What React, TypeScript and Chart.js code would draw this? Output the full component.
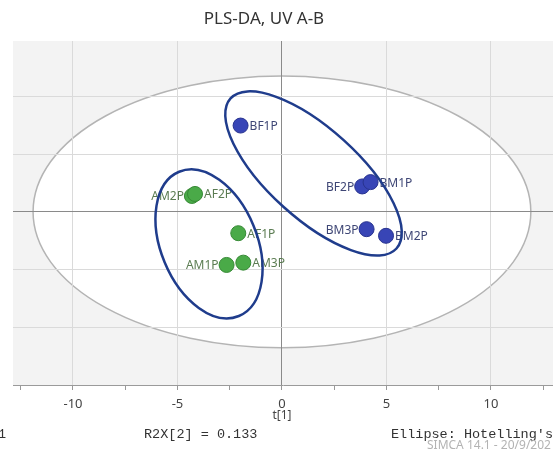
import React, { useEffect, useRef } from 'react';
import { Chart, registerables } from 'chart.js';

Chart.register(...registerables);

// ---------- data ----------
const TITLE = 'PLS-DA, UV A-B';
const X_AXIS_TITLE = 't[1]';
const FOOTER_LEFT_FRAGMENT = 'R2X[1] = 0.261';
const FOOTER_R2X = 'R2X[2] = 0.133';
const FOOTER_ELLIPSE = "Ellipse: Hotelling's T2 (95%)";
const FOOTER_SIMCA = 'SIMCA 14.1 - 20/9/202';

const X_MIN = -12.87;
const X_MAX = 12.97;
const Y_MIN = -6;
const Y_MAX = 5.92;
const X_TICKS = [-12.5, -10, -7.5, -5, -2.5, 0, 2.5, 5, 7.5, 10, 12.5];
const Y_GRID = [-6, -4, -2, 0, 2, 4];

const B_LABELS = ['BF1P', 'BF2P', 'BM1P', 'BM3P', 'BM2P'];
const B_X = [-1.98, 3.84, 4.24, 4.05, 4.98];
const B_Y = [2.99, 0.88, 1.03, -0.6, -0.83];
const B_SIDE = ['right', 'left', 'right', 'left', 'right'];

const A_LABELS = ['AM2P', 'AF2P', 'AF1P', 'AM1P', 'AM3P'];
const A_X = [-4.31, -4.16, -2.09, -2.65, -1.85];
const A_Y = [0.55, 0.62, -0.74, -1.84, -1.76];
const A_SIDE = ['left', 'right', 'right', 'left', 'right'];

// Hotelling T2 ellipse (data units, centred at origin)
const HOTELLING_RX = 11.91;
const HOTELLING_RY = 4.71;

// hand-drawn group ellipses: centre, major-axis tip (data units), minor semi-axis (x units)
const GROUP_B_ELLIPSE = [1.51, 1.33, -2.46, 3.93, 2.15];
const GROUP_A_ELLIPSE = [-3.49, -1.11, -4.92, 1.39, 2.3];

const BLUE_FILL = '#3845b6';
const BLUE_BORDER = '#28338f';
const BLUE_TEXT = '#3e4675';
const GREEN_FILL = '#4aaa48';
const GREEN_BORDER = '#378a36';
const GREEN_TEXT = '#5b7c52';
const NAVY = '#1f3c8c';

const overlay = {
  id: 'overlay',
  beforeDraw(chart: any) {
    const { ctx, chartArea: ca, scales } = chart;
    const xs = scales.x, ys = scales.y;
    ctx.save();
    ctx.fillStyle = '#f3f3f3';
    ctx.fillRect(ca.left, ca.top, ca.right - ca.left, ca.bottom - ca.top);
    const cx = xs.getPixelForValue(0), cy = ys.getPixelForValue(0);
    const rx = Math.abs(xs.getPixelForValue(HOTELLING_RX) - cx);
    const ry = Math.abs(ys.getPixelForValue(HOTELLING_RY) - cy);
    ctx.beginPath();
    ctx.ellipse(cx, cy, rx, ry, 0, 0, Math.PI * 2);
    ctx.fillStyle = '#ffffff';
    ctx.fill();
    ctx.lineWidth = 1.5;
    ctx.strokeStyle = '#b4b4b4';
    ctx.stroke();
    ctx.restore();
  },
  afterDatasetsDraw(chart: any) {
    const { ctx, scales } = chart;
    const xs = scales.x, ys = scales.y;
    ctx.save();
    ctx.font = '12px "Noto Sans"';
    ctx.textBaseline = 'middle';
    const r = 7.5;
    const drawLabels = (labels: string[], xv: number[], yv: number[], side: string[], color: string) => {
      ctx.fillStyle = color;
      labels.forEach((t, i) => {
        const px = xs.getPixelForValue(xv[i]);
        const py = ys.getPixelForValue(yv[i]);
        if (side[i] === 'left') {
          ctx.textAlign = 'right';
          ctx.fillText(t, px - r - 0.5, py + 1);
        } else {
          ctx.textAlign = 'left';
          ctx.fillText(t, px + r + 1.5, py + 1);
        }
      });
    };
    drawLabels(B_LABELS, B_X, B_Y, B_SIDE, BLUE_TEXT);
    drawLabels(A_LABELS, A_X, A_Y, A_SIDE, GREEN_TEXT);

    const drawGroup = (e: number[]) => {
      const cx = xs.getPixelForValue(e[0]), cy = ys.getPixelForValue(e[1]);
      const tx = xs.getPixelForValue(e[2]), ty = ys.getPixelForValue(e[3]);
      const a = Math.hypot(tx - cx, ty - cy);
      const b = Math.abs(xs.getPixelForValue(e[0] + e[4]) - cx);
      const rot = Math.atan2(ty - cy, tx - cx);
      ctx.beginPath();
      ctx.ellipse(cx, cy, a, b, rot, 0, Math.PI * 2);
      ctx.lineWidth = 2.5;
      ctx.strokeStyle = NAVY;
      ctx.stroke();
    };
    drawGroup(GROUP_B_ELLIPSE);
    drawGroup(GROUP_A_ELLIPSE);
    ctx.restore();
  },
  afterDraw(chart: any) {
    const { ctx, scales } = chart;
    const xs = scales.x;
    ctx.save();
    ctx.fillStyle = '#333333';
    ctx.font = '17px "Noto Sans"';
    ctx.textAlign = 'center';
    ctx.textBaseline = 'middle';
    ctx.fillText(TITLE, 264, 19);

    ctx.fillStyle = '#444444';
    ctx.font = '12px "Noto Sans"';
    ctx.fillText(X_AXIS_TITLE, xs.getPixelForValue(0), 416);

    ctx.fillStyle = '#333333';
    ctx.font = '13.5px "Liberation Mono"';
    ctx.textAlign = 'right';
    ctx.fillText(FOOTER_LEFT_FRAGMENT, 6, 434);
    ctx.textAlign = 'left';
    ctx.fillText(FOOTER_R2X, 144, 434);
    ctx.fillText(FOOTER_ELLIPSE, 391, 434);

    ctx.fillStyle = '#b3b3b3';
    ctx.font = '12px "Noto Sans"';
    ctx.fillText(FOOTER_SIMCA, 427, 446);
    ctx.restore();
  },
};

export default function App() {
  const ref = useRef<HTMLCanvasElement>(null);
  useEffect(() => {
    if (!ref.current) return;
    const chart = new Chart(ref.current, {
      type: 'scatter',
      data: {
        datasets: [
          {
            label: 'B',
            data: B_X.map((x, i) => ({ x, y: B_Y[i] })),
            backgroundColor: BLUE_FILL,
            borderColor: BLUE_BORDER,
            borderWidth: 1,
            pointRadius: 7.5,
          },
          {
            label: 'A',
            data: A_X.map((x, i) => ({ x, y: A_Y[i] })),
            backgroundColor: GREEN_FILL,
            borderColor: GREEN_BORDER,
            borderWidth: 1,
            pointRadius: 7.5,
          },
        ],
      },
      options: {
        responsive: false,
        animation: false,
        devicePixelRatio: 1,
        layout: { autoPadding: false, padding: { left: 13, top: 41, right: 0, bottom: 0 } },
        plugins: {
          legend: { display: false },
          tooltip: { enabled: false },
          title: { display: false },
        },
        scales: {
          x: {
            type: 'linear',
            min: X_MIN,
            max: X_MAX,
            afterBuildTicks: (s: any) => {
              s.ticks = X_TICKS.map((v) => ({ value: v }));
            },
            afterFit: (s: any) => {
              s.height = 67;
              s.paddingLeft = 0;
              s.paddingRight = 0;
            },
            ticks: {
              autoSkip: false,
              maxRotation: 0,
              padding: 6,
              color: '#444444',
              font: { family: '"Noto Sans"', size: 13 },
              callback: (v: any) => (Number(v) % 5 === 0 ? String(v) : ''),
            },
            grid: {
              color: (c: any) => {
                const v = c.tick ? c.tick.value : 1;
                if (v % 5 !== 0) return 'rgba(0,0,0,0)';
                return v === 0 ? '#8a8a8a' : '#dadada';
              },
              tickColor: '#999999',
              tickLength: 5,
              lineWidth: 1,
            },
            border: { display: true, color: '#9a9a9a', width: 1 },
          },
          y: {
            type: 'linear',
            min: Y_MIN,
            max: Y_MAX,
            afterBuildTicks: (s: any) => {
              s.ticks = Y_GRID.map((v) => ({ value: v }));
            },
            afterFit: (s: any) => {
              s.width = 0;
              s.paddingTop = 0;
              s.paddingBottom = 0;
            },
            ticks: { display: false },
            grid: {
              drawTicks: false,
              color: (c: any) => {
                const v = c.tick ? c.tick.value : 1;
                if (v === Y_MIN) return 'rgba(0,0,0,0)';
                return v === 0 ? '#8a8a8a' : '#dadada';
              },
            },
            border: { display: false },
          },
        },
      },
      plugins: [overlay],
    });
    return () => chart.destroy();
  }, []);
  return (
    <div style={{ position: 'absolute', left: 0, top: 0, width: 553, height: 452, overflow: 'hidden', background: '#fff' }}>
      <canvas ref={ref} width={553} height={452} style={{ display: 'block' }} />
    </div>
  );
}
